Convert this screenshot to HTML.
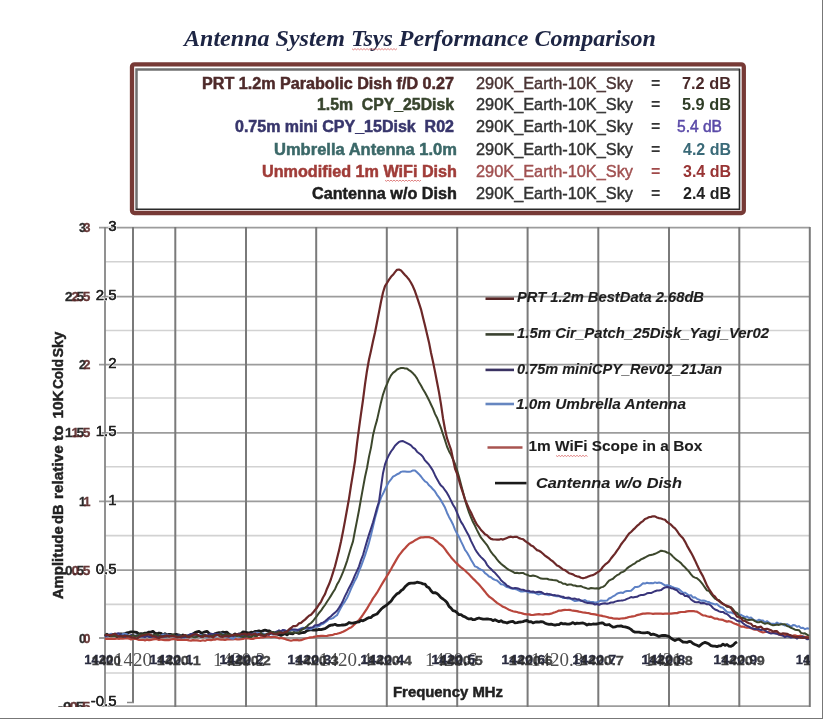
<!DOCTYPE html>
<html><head><meta charset="utf-8">
<style>
html,body{margin:0;padding:0;background:#fff;}
body{width:823px;height:719px;overflow:hidden;position:relative;}
svg{position:absolute;left:0;top:0;}
.t{font-family:"Liberation Sans",sans-serif;}
.s{font-family:"Liberation Serif",serif;}
</style></head><body>
<svg style="filter:blur(0.4px)" width="823" height="719" viewBox="0 0 823 719">
<rect x="0" y="0" width="823" height="719" fill="#fff"/>
<!-- title -->
<text class="s" x="184" y="45.8" font-size="24" font-weight="bold" font-style="italic" fill="#1d2544" textLength="472" lengthAdjust="spacingAndGlyphs">Antenna System Tsys Performance Comparison</text>
<!-- box -->
<rect x="132" y="64.3" width="611.8" height="148.7" rx="2.5" fill="none" stroke="#773a36" stroke-width="4.3"/>
<path d="M136.5 210 V69.5 H740" fill="none" stroke="#707070" stroke-width="2.5"/>
<path d="M739.5 69 V209.3 H136" fill="none" stroke="#2a2a2a" stroke-width="1.6"/>
<g class="t" font-weight="bold" font-size="16" stroke-width="0.5">
<text x="202" y="88.6" fill="#4e2a2a" stroke="#4e2a2a" textLength="252" lengthAdjust="spacingAndGlyphs">PRT 1.2m Parabolic Dish f/D 0.27</text>
<text x="317" y="110.3" fill="#38452e" stroke="#38452e" textLength="137" lengthAdjust="spacingAndGlyphs" xml:space="preserve">1.5m  CPY_25Disk</text>
<text x="235" y="132.2" fill="#38366c" stroke="#38366c" textLength="219" lengthAdjust="spacingAndGlyphs" xml:space="preserve">0.75m mini CPY_15Disk  R02</text>
<text x="274" y="154.5" fill="#3b6868" stroke="#3b6868" textLength="183" lengthAdjust="spacingAndGlyphs">Umbrella Antenna 1.0m</text>
<text x="262" y="177" fill="#a03c38" stroke="#a03c38" textLength="195" lengthAdjust="spacingAndGlyphs">Unmodified 1m WiFi Dish</text>
<text x="312" y="199.3" fill="#1e1e1e" stroke="#1e1e1e" textLength="145" lengthAdjust="spacingAndGlyphs">Cantenna w/o Dish</text>
</g>
<g class="t" font-size="16" stroke-width="0.4">
<text x="476" y="88.6" fill="#4a3434" stroke="#4a3434" textLength="157" lengthAdjust="spacingAndGlyphs">290K_Earth-10K_Sky</text>
<text x="476" y="110.3" fill="#333" stroke="#333" textLength="157" lengthAdjust="spacingAndGlyphs">290K_Earth-10K_Sky</text>
<text x="476" y="132.2" fill="#333" stroke="#333" textLength="157" lengthAdjust="spacingAndGlyphs">290K_Earth-10K_Sky</text>
<text x="476" y="154.5" fill="#333" stroke="#333" textLength="157" lengthAdjust="spacingAndGlyphs">290K_Earth-10K_Sky</text>
<text x="476" y="177" fill="#a05050" stroke="#a05050" textLength="157" lengthAdjust="spacingAndGlyphs">290K_Earth-10K_Sky</text>
<text x="476" y="199.3" fill="#333" stroke="#333" textLength="157" lengthAdjust="spacingAndGlyphs">290K_Earth-10K_Sky</text>
</g>
<g class="t" font-size="16" font-weight="bold">
<text x="651" y="88.6" fill="#333">=</text>
<text x="651" y="110.3" fill="#333">=</text>
<text x="651" y="132.2" fill="#333">=</text>
<text x="651" y="154.5" fill="#333">=</text>
<text x="651" y="177" fill="#a04848">=</text>
<text x="651" y="199.3" fill="#333">=</text>
<text x="682" y="88.6" fill="#4a2a2a" textLength="49" lengthAdjust="spacingAndGlyphs">7.2 dB</text>
<text x="682" y="110.3" fill="#2f3d26" textLength="49" lengthAdjust="spacingAndGlyphs">5.9 dB</text>
<text x="677" y="132.2" fill="#5a4aa8" stroke="#5a4aa8" stroke-width="0.5" font-weight="normal" textLength="45" lengthAdjust="spacingAndGlyphs">5.4 dB</text>
<text x="683" y="154.5" fill="#3a6a78" textLength="48" lengthAdjust="spacingAndGlyphs">4.2 dB</text>
<text x="683" y="177" fill="#983434" textLength="48" lengthAdjust="spacingAndGlyphs">3.4 dB</text>
<text x="683" y="199.3" fill="#222" textLength="48" lengthAdjust="spacingAndGlyphs">2.4 dB</text>
</g>
<defs><clipPath id="cx"><rect x="0" y="600" width="810" height="119"/></clipPath><clipPath id="cy"><rect x="0" y="0" width="823" height="707"/></clipPath></defs>
<line x1="105" y1="261.8" x2="810" y2="261.8" stroke="#d2d2d2" stroke-width="1.6"/>
<line x1="105" y1="330.5" x2="810" y2="330.5" stroke="#d2d2d2" stroke-width="1.6"/>
<line x1="105" y1="398" x2="810" y2="398" stroke="#d2d2d2" stroke-width="1.6"/>
<line x1="105" y1="466.8" x2="810" y2="466.8" stroke="#d2d2d2" stroke-width="1.6"/>
<line x1="105" y1="535.6" x2="810" y2="535.6" stroke="#d2d2d2" stroke-width="1.6"/>
<line x1="105" y1="604.4" x2="810" y2="604.4" stroke="#d2d2d2" stroke-width="1.6"/>
<line x1="105" y1="673" x2="810" y2="673" stroke="#d2d2d2" stroke-width="1.6"/>
<line x1="99" y1="227.7" x2="810" y2="227.7" stroke="#9c9c9c" stroke-width="1.8"/>
<line x1="99" y1="296.6" x2="810" y2="296.6" stroke="#9c9c9c" stroke-width="1.8"/>
<line x1="99" y1="364.7" x2="810" y2="364.7" stroke="#9c9c9c" stroke-width="1.8"/>
<line x1="99" y1="432.8" x2="810" y2="432.8" stroke="#9c9c9c" stroke-width="1.8"/>
<line x1="99" y1="501.3" x2="810" y2="501.3" stroke="#9c9c9c" stroke-width="1.8"/>
<line x1="99" y1="570.2" x2="810" y2="570.2" stroke="#9c9c9c" stroke-width="1.8"/>
<line x1="99" y1="638" x2="810" y2="638" stroke="#9c9c9c" stroke-width="1.8"/>
<line x1="99" y1="706.1" x2="810" y2="706.1" stroke="#9c9c9c" stroke-width="1.8"/>
<line x1="133" y1="227" x2="133" y2="702.5" stroke="#7a7a7a" stroke-width="2"/>
<line x1="175.3" y1="227" x2="175.3" y2="707" stroke="#7a7a7a" stroke-width="2"/>
<line x1="246" y1="227" x2="246" y2="707" stroke="#7a7a7a" stroke-width="2"/>
<line x1="316.2" y1="227" x2="316.2" y2="707" stroke="#7a7a7a" stroke-width="2"/>
<line x1="386.8" y1="227" x2="386.8" y2="707" stroke="#7a7a7a" stroke-width="2"/>
<line x1="457.2" y1="227" x2="457.2" y2="707" stroke="#7a7a7a" stroke-width="2"/>
<line x1="527.6" y1="227" x2="527.6" y2="707" stroke="#7a7a7a" stroke-width="2"/>
<line x1="598.3" y1="227" x2="598.3" y2="707" stroke="#7a7a7a" stroke-width="2"/>
<line x1="669" y1="227" x2="669" y2="707" stroke="#7a7a7a" stroke-width="2"/>
<line x1="739.3" y1="227" x2="739.3" y2="707" stroke="#7a7a7a" stroke-width="2"/>
<line x1="809.8" y1="227" x2="809.8" y2="707" stroke="#7a7a7a" stroke-width="2"/>
<line x1="127" y1="702.5" x2="134" y2="702.5" stroke="#888" stroke-width="1.5"/>
<line x1="105" y1="227" x2="105" y2="706" stroke="#858585" stroke-width="1.8"/>
<text class="t" x="116.5" y="231.3" font-size="15" fill="#222" stroke="#fff" stroke-width="1.5" paint-order="stroke" text-anchor="end">3</text>
<text class="t" x="116.5" y="231.3" font-size="15" fill="#222" stroke="#222" stroke-width="0.35" text-anchor="end">3</text>
<text class="t" x="85.9" y="232.3" font-size="12.5" font-weight="bold" fill="#2a2a2a" stroke="#2a2a2a" stroke-width="0.3" clip-path="url(#cy)" text-anchor="end">3</text>
<text class="t" x="90.4" y="232.3" font-size="12.5" font-weight="bold" fill="#5a2828" stroke="#5a2828" stroke-width="0.3" clip-path="url(#cy)" fill-opacity="0.9" text-anchor="end">3</text>
<text class="t" x="116.5" y="300.2" font-size="15" fill="#222" stroke="#fff" stroke-width="1.5" paint-order="stroke" text-anchor="end">2.5</text>
<text class="t" x="116.5" y="300.2" font-size="15" fill="#222" stroke="#222" stroke-width="0.35" text-anchor="end">2.5</text>
<text class="t" x="65.1" y="301.2" font-size="12.5" font-weight="bold" fill="#2a2a2a" stroke="#2a2a2a" stroke-width="0.3" clip-path="url(#cy)" textLength="19" lengthAdjust="spacingAndGlyphs">2.5</text>
<text class="t" x="71.4" y="301.2" font-size="12.5" font-weight="bold" fill="#5a2828" stroke="#5a2828" stroke-width="0.3" clip-path="url(#cy)" fill-opacity="0.9" textLength="19" lengthAdjust="spacingAndGlyphs">2.5</text>
<text class="t" x="116.5" y="368.3" font-size="15" fill="#222" stroke="#fff" stroke-width="1.5" paint-order="stroke" text-anchor="end">2</text>
<text class="t" x="116.5" y="368.3" font-size="15" fill="#222" stroke="#222" stroke-width="0.35" text-anchor="end">2</text>
<text class="t" x="85.9" y="369.3" font-size="12.5" font-weight="bold" fill="#2a2a2a" stroke="#2a2a2a" stroke-width="0.3" clip-path="url(#cy)" text-anchor="end">2</text>
<text class="t" x="90.4" y="369.3" font-size="12.5" font-weight="bold" fill="#5a2828" stroke="#5a2828" stroke-width="0.3" clip-path="url(#cy)" fill-opacity="0.9" text-anchor="end">2</text>
<text class="t" x="116.5" y="436.4" font-size="15" fill="#222" stroke="#fff" stroke-width="1.5" paint-order="stroke" text-anchor="end">1.5</text>
<text class="t" x="116.5" y="436.4" font-size="15" fill="#222" stroke="#222" stroke-width="0.35" text-anchor="end">1.5</text>
<text class="t" x="65.1" y="437.4" font-size="12.5" font-weight="bold" fill="#2a2a2a" stroke="#2a2a2a" stroke-width="0.3" clip-path="url(#cy)" textLength="19" lengthAdjust="spacingAndGlyphs">1.5</text>
<text class="t" x="71.4" y="437.4" font-size="12.5" font-weight="bold" fill="#5a2828" stroke="#5a2828" stroke-width="0.3" clip-path="url(#cy)" fill-opacity="0.9" textLength="19" lengthAdjust="spacingAndGlyphs">1.5</text>
<text class="t" x="116.5" y="504.9" font-size="15" fill="#222" stroke="#fff" stroke-width="1.5" paint-order="stroke" text-anchor="end">1</text>
<text class="t" x="116.5" y="504.9" font-size="15" fill="#222" stroke="#222" stroke-width="0.35" text-anchor="end">1</text>
<text class="t" x="85.9" y="505.9" font-size="12.5" font-weight="bold" fill="#2a2a2a" stroke="#2a2a2a" stroke-width="0.3" clip-path="url(#cy)" text-anchor="end">1</text>
<text class="t" x="90.4" y="505.9" font-size="12.5" font-weight="bold" fill="#5a2828" stroke="#5a2828" stroke-width="0.3" clip-path="url(#cy)" fill-opacity="0.9" text-anchor="end">1</text>
<text class="t" x="116.5" y="573.8" font-size="15" fill="#222" stroke="#fff" stroke-width="1.5" paint-order="stroke" text-anchor="end">0.5</text>
<text class="t" x="116.5" y="573.8" font-size="15" fill="#222" stroke="#222" stroke-width="0.35" text-anchor="end">0.5</text>
<text class="t" x="65.1" y="574.8" font-size="12.5" font-weight="bold" fill="#2a2a2a" stroke="#2a2a2a" stroke-width="0.3" clip-path="url(#cy)" textLength="19" lengthAdjust="spacingAndGlyphs">0.5</text>
<text class="t" x="71.4" y="574.8" font-size="12.5" font-weight="bold" fill="#5a2828" stroke="#5a2828" stroke-width="0.3" clip-path="url(#cy)" fill-opacity="0.9" textLength="19" lengthAdjust="spacingAndGlyphs">0.5</text>
<text class="t" x="85.9" y="642.6" font-size="12.5" font-weight="bold" fill="#2a2a2a" stroke="#2a2a2a" stroke-width="0.3" clip-path="url(#cy)" text-anchor="end">0</text>
<text class="t" x="90.4" y="642.6" font-size="12.5" font-weight="bold" fill="#5a2828" stroke="#5a2828" stroke-width="0.3" clip-path="url(#cy)" fill-opacity="0.9" text-anchor="end">0</text>
<text class="t" x="116.5" y="705.6" font-size="15" fill="#222" stroke="#fff" stroke-width="1.5" paint-order="stroke" text-anchor="end">-0.5</text>
<text class="t" x="116.5" y="705.6" font-size="15" fill="#222" stroke="#222" stroke-width="0.35" text-anchor="end">-0.5</text>
<text class="t" x="58.1" y="710.7" font-size="12.5" font-weight="bold" fill="#2a2a2a" stroke="#2a2a2a" stroke-width="0.3" clip-path="url(#cy)" textLength="26" lengthAdjust="spacingAndGlyphs">-0.5</text>
<text class="t" x="64.4" y="710.7" font-size="12.5" font-weight="bold" fill="#5a2828" stroke="#5a2828" stroke-width="0.3" clip-path="url(#cy)" fill-opacity="0.9" textLength="26" lengthAdjust="spacingAndGlyphs">-0.5</text>
<text class="s" x="133" y="666" font-size="19" fill="#505050" text-anchor="middle">1420</text>
<text class="s" x="239" y="666" font-size="19" fill="#505050" text-anchor="middle">1420.2</text>
<text class="s" x="345" y="666" font-size="19" fill="#505050" text-anchor="middle">1420.4</text>
<text class="s" x="451" y="666" font-size="19" fill="#505050" text-anchor="middle">1420.6</text>
<text class="s" x="557" y="666" font-size="19" fill="#505050" text-anchor="middle">1420.8</text>
<text class="s" x="663" y="666" font-size="19" fill="#505050" text-anchor="middle">1421</text>
<text class="t" x="84.2" y="664" font-size="13.5" font-weight="bold" fill="#2a2c40" stroke="#2a2c40" stroke-width="0.3" clip-path="url(#cx)" textLength="29" lengthAdjust="spacingAndGlyphs">1420</text>
<text class="t" x="91.8" y="664.5" font-size="13.5" font-weight="bold" fill="#2a2a2a" stroke="#2a2a2a" stroke-width="0.3" fill-opacity="0.85" clip-path="url(#cx)" textLength="29" lengthAdjust="spacingAndGlyphs">1420</text>
<text class="t" x="149.2" y="664" font-size="13.5" font-weight="bold" fill="#2a2c40" stroke="#2a2c40" stroke-width="0.3" clip-path="url(#cx)" textLength="44" lengthAdjust="spacingAndGlyphs">1420.1</text>
<text class="t" x="156.8" y="664.5" font-size="13.5" font-weight="bold" fill="#2a2a2a" stroke="#2a2a2a" stroke-width="0.3" fill-opacity="0.85" clip-path="url(#cx)" textLength="44" lengthAdjust="spacingAndGlyphs">1420.1</text>
<text class="t" x="219.2" y="664" font-size="13.5" font-weight="bold" fill="#2a2c40" stroke="#2a2c40" stroke-width="0.3" clip-path="url(#cx)" textLength="44" lengthAdjust="spacingAndGlyphs">1420.2</text>
<text class="t" x="226.8" y="664.5" font-size="13.5" font-weight="bold" fill="#2a2a2a" stroke="#2a2a2a" stroke-width="0.3" fill-opacity="0.85" clip-path="url(#cx)" textLength="44" lengthAdjust="spacingAndGlyphs">1420.2</text>
<text class="t" x="287.2" y="664" font-size="13.5" font-weight="bold" fill="#2a2c40" stroke="#2a2c40" stroke-width="0.3" clip-path="url(#cx)" textLength="44" lengthAdjust="spacingAndGlyphs">1420.3</text>
<text class="t" x="294.8" y="664.5" font-size="13.5" font-weight="bold" fill="#2a2a2a" stroke="#2a2a2a" stroke-width="0.3" fill-opacity="0.85" clip-path="url(#cx)" textLength="44" lengthAdjust="spacingAndGlyphs">1420.3</text>
<text class="t" x="360.2" y="664" font-size="13.5" font-weight="bold" fill="#2a2c40" stroke="#2a2c40" stroke-width="0.3" clip-path="url(#cx)" textLength="44" lengthAdjust="spacingAndGlyphs">1420.4</text>
<text class="t" x="367.8" y="664.5" font-size="13.5" font-weight="bold" fill="#2a2a2a" stroke="#2a2a2a" stroke-width="0.3" fill-opacity="0.85" clip-path="url(#cx)" textLength="44" lengthAdjust="spacingAndGlyphs">1420.4</text>
<text class="t" x="431.2" y="664" font-size="13.5" font-weight="bold" fill="#2a2c40" stroke="#2a2c40" stroke-width="0.3" clip-path="url(#cx)" textLength="44" lengthAdjust="spacingAndGlyphs">1420.5</text>
<text class="t" x="438.8" y="664.5" font-size="13.5" font-weight="bold" fill="#2a2a2a" stroke="#2a2a2a" stroke-width="0.3" fill-opacity="0.85" clip-path="url(#cx)" textLength="44" lengthAdjust="spacingAndGlyphs">1420.5</text>
<text class="t" x="501.2" y="664" font-size="13.5" font-weight="bold" fill="#2a2c40" stroke="#2a2c40" stroke-width="0.3" clip-path="url(#cx)" textLength="44" lengthAdjust="spacingAndGlyphs">1420.6</text>
<text class="t" x="508.8" y="664.5" font-size="13.5" font-weight="bold" fill="#2a2a2a" stroke="#2a2a2a" stroke-width="0.3" fill-opacity="0.85" clip-path="url(#cx)" textLength="44" lengthAdjust="spacingAndGlyphs">1420.6</text>
<text class="t" x="572.2" y="664" font-size="13.5" font-weight="bold" fill="#2a2c40" stroke="#2a2c40" stroke-width="0.3" clip-path="url(#cx)" textLength="44" lengthAdjust="spacingAndGlyphs">1420.7</text>
<text class="t" x="579.8" y="664.5" font-size="13.5" font-weight="bold" fill="#2a2a2a" stroke="#2a2a2a" stroke-width="0.3" fill-opacity="0.85" clip-path="url(#cx)" textLength="44" lengthAdjust="spacingAndGlyphs">1420.7</text>
<text class="t" x="641.2" y="664" font-size="13.5" font-weight="bold" fill="#2a2c40" stroke="#2a2c40" stroke-width="0.3" clip-path="url(#cx)" textLength="44" lengthAdjust="spacingAndGlyphs">1420.8</text>
<text class="t" x="648.8" y="664.5" font-size="13.5" font-weight="bold" fill="#2a2a2a" stroke="#2a2a2a" stroke-width="0.3" fill-opacity="0.85" clip-path="url(#cx)" textLength="44" lengthAdjust="spacingAndGlyphs">1420.8</text>
<text class="t" x="713.2" y="664" font-size="13.5" font-weight="bold" fill="#2a2c40" stroke="#2a2c40" stroke-width="0.3" clip-path="url(#cx)" textLength="44" lengthAdjust="spacingAndGlyphs">1420.9</text>
<text class="t" x="720.8" y="664.5" font-size="13.5" font-weight="bold" fill="#2a2a2a" stroke="#2a2a2a" stroke-width="0.3" fill-opacity="0.85" clip-path="url(#cx)" textLength="44" lengthAdjust="spacingAndGlyphs">1420.9</text>
<text class="t" x="795.8" y="664" font-size="13.5" font-weight="bold" fill="#2a2c40" stroke="#2a2c40" stroke-width="0.3" clip-path="url(#cx)" textLength="29" lengthAdjust="spacingAndGlyphs">1421</text>
<text class="t" x="803.2" y="664.5" font-size="13.5" font-weight="bold" fill="#2a2a2a" stroke="#2a2a2a" stroke-width="0.3" fill-opacity="0.85" clip-path="url(#cx)" textLength="29" lengthAdjust="spacingAndGlyphs">1421</text>
<polyline fill="none" stroke="#b8463c" stroke-width="2.2" stroke-linejoin="round" points="105.0,639.0 107.0,638.6 109.0,639.0 111.0,638.6 113.0,638.9 115.0,638.8 117.0,638.4 119.0,638.8 121.0,638.4 123.0,638.7 125.0,638.4 127.0,638.2 129.0,638.6 131.0,639.4 133.0,638.9 135.0,638.8 137.0,639.3 139.0,640.0 141.0,640.0 143.0,639.8 145.0,640.4 147.0,639.6 149.0,640.2 151.0,639.8 153.0,639.4 155.0,639.1 157.0,639.2 159.0,639.9 161.0,639.5 163.0,639.8 165.0,640.1 167.0,639.9 169.0,640.1 171.0,639.5 173.0,639.2 175.0,639.2 177.0,639.8 179.0,639.8 181.0,639.7 183.0,640.0 185.0,640.0 187.0,639.9 189.0,640.4 191.0,640.6 193.0,640.1 195.0,640.3 197.0,640.3 199.0,640.7 201.0,640.8 203.0,640.3 205.0,640.8 207.0,640.0 209.0,639.9 211.0,640.2 213.0,639.6 215.0,639.6 217.0,639.0 219.0,639.4 221.0,639.7 223.0,639.6 225.0,640.0 227.0,639.4 229.0,639.5 231.0,639.4 233.0,639.3 235.0,639.0 237.0,639.3 239.0,639.5 241.0,639.1 243.0,639.0 245.0,638.1 247.0,638.4 249.0,638.4 251.0,638.9 253.0,638.9 255.0,638.2 257.0,637.9 259.0,638.0 261.0,637.3 263.0,637.3 265.0,637.0 267.0,636.7 269.0,636.4 271.0,637.2 273.0,636.9 275.0,637.0 277.0,637.3 279.0,638.3 281.0,638.0 283.0,638.4 285.0,638.9 287.0,639.7 289.0,640.2 291.0,640.7 293.0,640.2 295.0,640.1 297.0,639.9 299.0,640.3 301.0,640.2 303.0,639.4 305.0,638.8 307.0,638.2 309.0,637.7 311.0,637.4 313.0,637.1 315.0,636.7 317.0,636.2 319.0,636.1 321.0,635.9 323.0,635.8 325.0,636.0 327.0,635.8 329.0,635.4 331.0,635.1 333.0,634.8 335.0,634.0 337.0,633.8 339.0,633.2 341.0,632.6 343.0,631.8 345.0,630.7 347.0,629.6 349.0,628.3 351.0,627.5 353.0,625.8 355.0,623.9 357.0,622.0 359.0,619.9 361.0,617.5 363.0,614.7 365.0,611.7 367.0,608.6 369.0,605.2 371.0,602.0 373.0,598.4 375.0,595.7 377.0,592.7 379.0,589.2 381.0,585.8 383.0,582.4 385.0,579.2 387.0,575.8 389.0,572.6 391.0,569.3 393.0,565.6 395.0,562.1 397.0,558.6 399.0,555.4 401.0,552.8 403.0,550.3 405.0,548.3 407.0,546.0 409.0,543.9 411.0,542.8 413.0,541.7 415.0,540.3 417.0,539.3 419.0,538.1 421.0,537.4 423.0,537.3 425.0,537.1 427.0,537.1 429.0,537.1 431.0,537.7 433.0,538.4 435.0,540.0 437.0,541.5 439.0,543.3 441.0,544.9 443.0,546.6 445.0,549.2 447.0,552.0 449.0,554.6 451.0,557.2 453.0,559.6 455.0,561.7 457.0,563.6 459.0,565.6 461.0,567.4 463.0,568.9 465.0,570.5 467.0,572.5 469.0,574.3 471.0,576.4 473.0,578.6 475.0,580.4 477.0,582.5 479.0,584.5 481.0,586.9 483.0,589.3 485.0,591.7 487.0,594.3 489.0,596.5 491.0,597.8 493.0,599.4 495.0,601.2 497.0,602.8 499.0,604.1 501.0,605.4 503.0,606.8 505.0,607.5 507.0,608.6 509.0,609.7 511.0,610.5 513.0,611.2 515.0,611.7 517.0,612.0 519.0,612.7 521.0,613.0 523.0,613.6 525.0,614.2 527.0,614.3 529.0,614.4 531.0,614.9 533.0,615.0 535.0,614.7 537.0,614.4 539.0,614.2 541.0,614.5 543.0,614.6 545.0,614.1 547.0,614.1 549.0,614.1 551.0,613.7 553.0,612.9 555.0,612.3 557.0,611.5 559.0,610.6 561.0,610.6 563.0,610.2 565.0,609.9 567.0,610.0 569.0,609.8 571.0,610.2 573.0,610.7 575.0,610.8 577.0,611.1 579.0,611.6 581.0,612.0 583.0,612.5 585.0,612.7 587.0,613.0 589.0,613.2 591.0,613.9 593.0,614.1 595.0,614.4 597.0,614.8 599.0,615.4 601.0,615.6 603.0,616.1 605.0,616.5 607.0,617.0 609.0,617.6 611.0,617.8 613.0,618.4 615.0,618.6 617.0,618.5 619.0,618.9 621.0,618.5 623.0,618.3 625.0,618.1 627.0,617.6 629.0,617.0 631.0,616.7 633.0,616.3 635.0,616.0 637.0,615.1 639.0,614.7 641.0,614.1 643.0,613.6 645.0,613.6 647.0,613.4 649.0,613.4 651.0,613.5 653.0,613.8 655.0,613.6 657.0,613.7 659.0,613.7 661.0,613.7 663.0,613.8 665.0,613.7 667.0,613.6 669.0,613.5 671.0,613.6 673.0,613.4 675.0,613.2 677.0,613.1 679.0,612.4 681.0,612.0 683.0,612.0 685.0,611.9 687.0,611.4 689.0,611.1 691.0,611.2 693.0,611.0 695.0,611.4 697.0,611.7 699.0,612.9 701.0,614.2 703.0,615.4 705.0,615.5 707.0,616.3 709.0,616.8 711.0,616.7 713.0,617.7 715.0,618.7 717.0,618.5 719.0,619.5 721.0,619.6 723.0,619.9 725.0,620.9 727.0,621.6 729.0,621.2 731.0,621.8 733.0,622.9 735.0,623.7 737.0,624.4 739.0,625.3 741.0,626.6 743.0,626.5 745.0,627.2 747.0,627.7 749.0,627.7 751.0,628.2 753.0,629.1 755.0,629.7 757.0,629.6 759.0,630.9 761.0,631.7 763.0,632.5 765.0,632.0 767.0,632.0 769.0,631.9 771.0,632.9 773.0,632.9 775.0,632.9 777.0,633.4 779.0,634.4 781.0,635.1 783.0,634.9 785.0,634.7 787.0,635.6 789.0,635.8 791.0,636.2 793.0,635.7 795.0,635.4 797.0,636.0 799.0,636.1 801.0,635.7 803.0,636.6 805.0,636.8 807.0,637.2 809.0,636.5"/>
<polyline fill="none" stroke="#1a1a1a" stroke-width="2.8" stroke-linejoin="round" points="105.0,636.1 107.0,634.3 109.0,635.7 111.0,635.3 113.0,634.7 115.0,634.9 117.0,636.3 119.0,635.0 121.0,633.8 123.0,634.2 125.0,633.6 127.0,632.8 129.0,632.4 131.0,631.8 133.0,631.9 135.0,632.2 137.0,632.5 139.0,634.1 141.0,633.6 143.0,633.9 145.0,633.1 147.0,633.1 149.0,632.1 151.0,632.1 153.0,631.4 155.0,633.2 157.0,633.8 159.0,633.0 161.0,633.4 163.0,635.1 165.0,633.6 167.0,634.9 169.0,634.4 171.0,634.4 173.0,635.4 175.0,634.6 177.0,634.5 179.0,635.0 181.0,636.2 183.0,635.0 185.0,635.7 187.0,635.8 189.0,635.6 191.0,634.8 193.0,634.0 195.0,632.6 197.0,631.9 199.0,631.3 201.0,633.0 203.0,632.5 205.0,631.9 207.0,631.3 209.0,633.3 211.0,634.7 213.0,634.9 215.0,633.8 217.0,633.0 219.0,632.6 221.0,632.9 223.0,632.1 225.0,632.5 227.0,632.2 229.0,634.2 231.0,635.5 233.0,635.1 235.0,633.8 237.0,635.2 239.0,634.1 241.0,633.5 243.0,631.9 245.0,632.2 247.0,632.6 249.0,633.0 251.0,632.2 253.0,632.7 255.0,631.4 257.0,631.4 259.0,630.9 261.0,631.5 263.0,630.7 265.0,630.2 267.0,630.7 269.0,630.8 271.0,632.0 273.0,632.6 275.0,633.7 277.0,634.1 279.0,634.6 281.0,635.4 283.0,634.4 285.0,633.5 287.0,634.9 289.0,633.1 291.0,633.7 293.0,633.8 295.0,631.7 297.0,632.8 299.0,633.5 301.0,632.9 303.0,632.5 305.0,632.3 307.0,630.6 309.0,630.1 311.0,629.7 313.0,630.0 315.0,630.0 317.0,630.0 319.0,629.4 321.0,629.6 323.0,629.1 325.0,628.7 327.0,627.3 329.0,625.9 331.0,625.1 333.0,625.0 335.0,624.3 337.0,625.3 339.0,625.3 341.0,625.2 343.0,625.0 345.0,624.8 347.0,624.2 349.0,622.5 351.0,623.1 353.0,623.2 355.0,622.6 357.0,622.1 359.0,621.9 361.0,620.4 363.0,620.8 365.0,619.8 367.0,618.5 369.0,617.6 371.0,617.5 373.0,615.6 375.0,614.7 377.0,614.0 379.0,611.7 381.0,609.3 383.0,607.5 385.0,606.1 387.0,604.8 389.0,602.9 391.0,601.2 393.0,598.2 395.0,595.9 397.0,593.8 399.0,592.9 401.0,590.7 403.0,589.3 405.0,586.8 407.0,584.9 409.0,583.5 411.0,583.2 413.0,583.1 415.0,583.0 417.0,582.2 419.0,582.6 421.0,583.0 423.0,583.9 425.0,584.2 427.0,586.8 429.0,587.8 431.0,590.7 433.0,592.9 435.0,592.6 437.0,593.5 439.0,595.3 441.0,597.7 443.0,599.0 445.0,600.5 447.0,602.5 449.0,606.4 451.0,608.1 453.0,610.6 455.0,611.2 457.0,612.6 459.0,614.7 461.0,614.6 463.0,616.2 465.0,616.8 467.0,618.2 469.0,619.0 471.0,618.6 473.0,619.7 475.0,619.6 477.0,618.6 479.0,618.0 481.0,618.7 483.0,619.1 485.0,619.1 487.0,618.8 489.0,619.1 491.0,619.3 493.0,620.6 495.0,619.7 497.0,620.7 499.0,621.7 501.0,620.7 503.0,622.0 505.0,622.3 507.0,623.0 509.0,622.1 511.0,621.7 513.0,621.5 515.0,622.8 517.0,622.7 519.0,622.2 521.0,622.0 523.0,621.6 525.0,620.8 527.0,620.5 529.0,621.9 531.0,621.6 533.0,622.9 535.0,622.2 537.0,621.8 539.0,622.2 541.0,621.7 543.0,621.8 545.0,623.2 547.0,623.9 549.0,624.3 551.0,624.1 553.0,624.7 555.0,625.1 557.0,624.6 559.0,624.6 561.0,623.2 563.0,623.8 565.0,623.6 567.0,624.1 569.0,624.2 571.0,623.6 573.0,622.6 575.0,623.9 577.0,623.1 579.0,623.3 581.0,623.1 583.0,623.0 585.0,623.8 587.0,625.0 589.0,624.1 591.0,624.5 593.0,624.0 595.0,624.2 597.0,624.0 599.0,623.4 601.0,623.0 603.0,623.0 605.0,624.6 607.0,624.9 609.0,624.5 611.0,625.9 613.0,627.2 615.0,626.9 617.0,626.2 619.0,626.1 621.0,625.9 623.0,626.6 625.0,626.8 627.0,627.4 629.0,628.1 631.0,629.4 633.0,631.2 635.0,632.1 637.0,632.1 639.0,632.2 641.0,632.7 643.0,632.8 645.0,632.9 647.0,632.5 649.0,632.8 651.0,634.7 653.0,634.1 655.0,634.7 657.0,635.4 659.0,636.4 661.0,635.7 663.0,635.5 665.0,635.4 667.0,635.9 669.0,636.5 671.0,638.3 673.0,639.4 675.0,640.5 677.0,639.5 679.0,639.1 681.0,640.6 683.0,642.0 685.0,642.1 687.0,642.4 689.0,641.5 691.0,641.7 693.0,643.5 695.0,644.5 697.0,645.3 699.0,646.3 701.0,644.7 703.0,643.2 705.0,642.4 707.0,643.1 709.0,644.1 711.0,645.7 713.0,646.1 715.0,646.1 717.0,646.6 719.0,645.9 721.0,645.8 723.0,644.1 725.0,645.4 727.0,644.5 729.0,646.1 731.0,646.3 733.0,645.2 735.0,643.2 737.0,641.8"/>
<polyline fill="none" stroke="#5d80c4" stroke-width="2.0" stroke-linejoin="round" points="105.0,635.9 107.0,636.4 109.0,634.9 111.0,633.8 113.0,634.5 115.0,635.1 117.0,634.9 119.0,634.3 121.0,635.0 123.0,633.8 125.0,633.8 127.0,634.3 129.0,636.1 131.0,636.4 133.0,637.3 135.0,636.6 137.0,635.5 139.0,634.8 141.0,636.5 143.0,636.8 145.0,635.9 147.0,634.4 149.0,634.9 151.0,635.7 153.0,635.5 155.0,634.9 157.0,635.7 159.0,637.0 161.0,635.8 163.0,634.4 165.0,634.4 167.0,634.7 169.0,635.7 171.0,634.9 173.0,636.1 175.0,636.8 177.0,636.5 179.0,635.4 181.0,637.0 183.0,636.1 185.0,637.0 187.0,635.9 189.0,635.1 191.0,636.2 193.0,635.5 195.0,637.0 197.0,636.7 199.0,635.5 201.0,634.9 203.0,635.0 205.0,635.9 207.0,637.3 209.0,635.8 211.0,635.5 213.0,634.8 215.0,636.6 217.0,635.3 219.0,634.2 221.0,633.5 223.0,634.0 225.0,635.9 227.0,637.0 229.0,637.3 231.0,638.3 233.0,638.7 235.0,637.1 237.0,635.7 239.0,637.0 241.0,637.3 243.0,635.3 245.0,635.9 247.0,635.4 249.0,635.0 251.0,634.6 253.0,633.8 255.0,632.7 257.0,632.7 259.0,632.9 261.0,634.7 263.0,633.4 265.0,634.9 267.0,633.6 269.0,633.1 271.0,634.0 273.0,634.6 275.0,633.7 277.0,631.8 279.0,631.8 281.0,631.4 283.0,632.7 285.0,631.3 287.0,630.7 289.0,631.9 291.0,630.0 293.0,629.8 295.0,630.7 297.0,631.2 299.0,629.2 301.0,628.3 303.0,627.7 305.0,628.8 307.0,628.3 309.0,628.7 311.0,629.2 313.0,627.8 315.0,626.6 317.0,626.8 319.0,626.1 321.0,624.6 323.0,623.9 325.0,622.4 327.0,620.9 329.0,619.1 331.0,618.7 333.0,618.1 335.0,616.5 337.0,615.2 339.0,611.3 341.0,607.6 343.0,604.1 345.0,601.3 347.0,598.0 349.0,593.6 351.0,588.8 353.0,584.6 355.0,580.4 357.0,576.7 359.0,571.1 361.0,566.4 363.0,561.0 365.0,555.4 367.0,549.3 369.0,542.6 371.0,534.9 373.0,526.5 375.0,518.1 377.0,511.0 379.0,503.3 381.0,497.6 383.0,493.8 385.0,489.5 387.0,485.4 389.0,481.8 391.0,479.4 393.0,476.7 395.0,475.6 397.0,474.3 399.0,473.5 401.0,471.9 403.0,471.4 405.0,471.4 407.0,471.7 409.0,471.8 411.0,471.4 413.0,470.4 415.0,470.4 417.0,472.3 419.0,474.2 421.0,476.5 423.0,479.1 425.0,481.3 427.0,482.5 429.0,485.3 431.0,487.0 433.0,489.3 435.0,491.4 437.0,494.8 439.0,497.4 441.0,500.4 443.0,504.0 445.0,507.6 447.0,512.7 449.0,516.9 451.0,520.5 453.0,524.5 455.0,529.6 457.0,533.5 459.0,536.9 461.0,541.4 463.0,545.4 465.0,549.9 467.0,552.5 469.0,555.9 471.0,559.7 473.0,563.0 475.0,566.4 477.0,567.1 479.0,568.6 481.0,569.7 483.0,570.7 485.0,573.2 487.0,574.5 489.0,576.5 491.0,577.2 493.0,579.0 495.0,579.9 497.0,580.5 499.0,582.2 501.0,584.2 503.0,584.4 505.0,585.8 507.0,587.1 509.0,587.6 511.0,588.4 513.0,588.7 515.0,589.1 517.0,589.6 519.0,590.6 521.0,591.5 523.0,591.4 525.0,591.1 527.0,591.5 529.0,592.5 531.0,592.5 533.0,592.7 535.0,592.8 537.0,594.0 539.0,594.4 541.0,593.8 543.0,593.6 545.0,594.1 547.0,594.7 549.0,595.4 551.0,594.9 553.0,594.9 555.0,595.9 557.0,596.2 559.0,596.3 561.0,596.5 563.0,598.0 565.0,597.9 567.0,598.4 569.0,598.6 571.0,598.9 573.0,600.0 575.0,601.1 577.0,600.7 579.0,600.3 581.0,601.0 583.0,600.6 585.0,600.0 587.0,601.3 589.0,601.4 591.0,602.1 593.0,601.9 595.0,602.6 597.0,602.2 599.0,601.4 601.0,600.5 603.0,600.7 605.0,600.7 607.0,600.6 609.0,598.5 611.0,597.7 613.0,596.3 615.0,595.3 617.0,593.7 619.0,592.9 621.0,592.6 623.0,592.9 625.0,591.5 627.0,591.0 629.0,591.0 631.0,590.8 633.0,588.9 635.0,587.1 637.0,586.9 639.0,586.5 641.0,585.1 643.0,583.3 645.0,583.6 647.0,582.8 649.0,583.2 651.0,583.0 653.0,583.3 655.0,582.4 657.0,583.0 659.0,582.6 661.0,582.9 663.0,584.2 665.0,585.4 667.0,585.3 669.0,585.6 671.0,586.3 673.0,587.3 675.0,588.1 677.0,588.5 679.0,589.3 681.0,591.0 683.0,592.7 685.0,592.7 687.0,594.0 689.0,595.6 691.0,595.2 693.0,597.6 695.0,597.3 697.0,598.8 699.0,599.7 701.0,600.7 703.0,600.4 705.0,600.8 707.0,601.7 709.0,602.0 711.0,603.3 713.0,603.8 715.0,604.4 717.0,604.1 719.0,606.0 721.0,607.3 723.0,607.8 725.0,610.1 727.0,611.9 729.0,612.4 731.0,612.3 733.0,613.4 735.0,613.3 737.0,613.5 739.0,614.7 741.0,614.8 743.0,616.0 745.0,617.1 747.0,616.5 749.0,618.0 751.0,617.5 753.0,619.3 755.0,620.6 757.0,620.9 759.0,619.7 761.0,620.4 763.0,620.6 765.0,622.4 767.0,621.2 769.0,622.5 771.0,623.8 773.0,623.8 775.0,624.1 777.0,622.5 779.0,623.9 781.0,623.5 783.0,624.7 785.0,625.6 787.0,624.1 789.0,625.2 791.0,626.6 793.0,625.1 795.0,625.2 797.0,626.7 799.0,626.1 801.0,628.1 803.0,627.7 805.0,629.2 807.0,628.3 809.0,628.8"/>
<polyline fill="none" stroke="#38347a" stroke-width="2.0" stroke-linejoin="round" points="105.0,636.7 107.0,635.4 109.0,634.8 111.0,635.1 113.0,634.7 115.0,633.7 117.0,633.5 119.0,633.2 121.0,635.3 123.0,635.9 125.0,636.9 127.0,635.5 129.0,636.3 131.0,635.0 133.0,635.3 135.0,635.8 137.0,635.4 139.0,636.5 141.0,636.4 143.0,636.4 145.0,637.2 147.0,635.6 149.0,637.0 151.0,637.0 153.0,636.3 155.0,636.9 157.0,635.9 159.0,637.3 161.0,637.0 163.0,636.2 165.0,636.8 167.0,636.4 169.0,635.3 171.0,636.2 173.0,634.9 175.0,636.1 177.0,635.4 179.0,636.0 181.0,637.4 183.0,637.1 185.0,637.2 187.0,636.3 189.0,634.8 191.0,633.9 193.0,633.7 195.0,634.8 197.0,635.1 199.0,635.5 201.0,636.8 203.0,635.5 205.0,634.9 207.0,635.7 209.0,634.5 211.0,633.6 213.0,634.1 215.0,633.6 217.0,634.1 219.0,634.0 221.0,634.9 223.0,635.5 225.0,634.8 227.0,635.5 229.0,635.6 231.0,634.6 233.0,636.3 235.0,635.4 237.0,634.5 239.0,633.8 241.0,634.8 243.0,636.1 245.0,636.7 247.0,636.0 249.0,635.1 251.0,633.8 253.0,634.6 255.0,634.9 257.0,634.4 259.0,634.8 261.0,634.4 263.0,635.4 265.0,635.5 267.0,634.0 269.0,634.8 271.0,632.8 273.0,632.8 275.0,632.3 277.0,631.5 279.0,630.3 281.0,631.4 283.0,629.9 285.0,630.3 287.0,631.6 289.0,630.1 291.0,629.2 293.0,629.6 295.0,629.5 297.0,629.7 299.0,630.3 301.0,629.1 303.0,628.5 305.0,628.0 307.0,627.2 309.0,628.0 311.0,627.6 313.0,627.1 315.0,625.3 317.0,625.3 319.0,624.7 321.0,623.3 323.0,622.6 325.0,621.2 327.0,619.6 329.0,617.8 331.0,616.2 333.0,614.2 335.0,612.6 337.0,610.7 339.0,607.8 341.0,604.6 343.0,600.7 345.0,596.1 347.0,592.2 349.0,587.9 351.0,584.3 353.0,580.0 355.0,575.1 357.0,570.8 359.0,566.3 361.0,560.1 363.0,555.0 365.0,547.9 367.0,541.1 369.0,534.6 371.0,528.5 373.0,522.2 375.0,515.2 377.0,507.7 379.0,501.7 381.0,487.2 383.0,473.2 385.0,464.4 387.0,459.1 389.0,454.9 391.0,451.5 393.0,448.9 395.0,445.7 397.0,443.8 399.0,441.9 401.0,441.3 403.0,441.1 405.0,442.1 407.0,443.1 409.0,444.2 411.0,445.4 413.0,447.7 415.0,448.9 417.0,451.7 419.0,453.2 421.0,454.8 423.0,456.9 425.0,460.4 427.0,462.5 429.0,464.7 431.0,467.6 433.0,470.8 435.0,475.2 437.0,479.1 439.0,482.6 441.0,485.6 443.0,487.3 445.0,490.2 447.0,492.9 449.0,496.6 451.0,500.6 453.0,504.8 455.0,507.9 457.0,512.7 459.0,517.4 461.0,521.9 463.0,524.9 465.0,528.7 467.0,532.4 469.0,536.1 471.0,540.9 473.0,544.9 475.0,548.9 477.0,552.2 479.0,554.8 481.0,557.1 483.0,559.0 485.0,561.1 487.0,564.8 489.0,567.2 491.0,569.0 493.0,571.2 495.0,572.8 497.0,575.1 499.0,577.3 501.0,580.2 503.0,582.0 505.0,583.5 507.0,585.7 509.0,586.5 511.0,587.8 513.0,588.4 515.0,587.9 517.0,588.3 519.0,588.8 521.0,589.7 523.0,589.7 525.0,590.5 527.0,590.9 529.0,590.8 531.0,591.8 533.0,591.4 535.0,592.4 537.0,592.1 539.0,591.8 541.0,592.0 543.0,593.1 545.0,594.3 547.0,593.6 549.0,594.1 551.0,594.5 553.0,595.4 555.0,595.1 557.0,595.6 559.0,595.8 561.0,596.8 563.0,596.7 565.0,597.9 567.0,597.7 569.0,597.6 571.0,598.4 573.0,598.8 575.0,598.6 577.0,599.4 579.0,599.3 581.0,600.5 583.0,601.4 585.0,602.3 587.0,602.9 589.0,602.9 591.0,603.2 593.0,603.5 595.0,604.5 597.0,604.0 599.0,604.9 601.0,604.0 603.0,603.6 605.0,603.2 607.0,603.7 609.0,603.2 611.0,602.5 613.0,602.6 615.0,601.6 617.0,601.1 619.0,600.7 621.0,600.6 623.0,600.4 625.0,599.9 627.0,598.9 629.0,598.1 631.0,597.1 633.0,597.4 635.0,597.1 637.0,596.8 639.0,595.6 641.0,595.0 643.0,595.0 645.0,594.5 647.0,593.3 649.0,592.9 651.0,593.1 653.0,592.1 655.0,591.2 657.0,590.5 659.0,590.4 661.0,590.1 663.0,588.5 665.0,587.4 667.0,587.1 669.0,587.3 671.0,588.2 673.0,588.5 675.0,589.5 677.0,590.3 679.0,592.5 681.0,593.8 683.0,594.0 685.0,595.9 687.0,596.0 689.0,597.0 691.0,599.5 693.0,600.9 695.0,602.0 697.0,602.3 699.0,602.0 701.0,603.3 703.0,602.9 705.0,603.3 707.0,604.3 709.0,604.3 711.0,605.7 713.0,608.0 715.0,609.5 717.0,610.2 719.0,611.4 721.0,612.0 723.0,611.9 725.0,613.4 727.0,614.1 729.0,615.8 731.0,617.8 733.0,618.2 735.0,619.2 737.0,620.7 739.0,621.2 741.0,621.3 743.0,623.2 745.0,624.8 747.0,625.9 749.0,626.7 751.0,627.9 753.0,628.5 755.0,629.1 757.0,629.2 759.0,629.1 761.0,630.1 763.0,629.5 765.0,630.2 767.0,631.9 769.0,632.9 771.0,633.6 773.0,633.1 775.0,633.4 777.0,633.8 779.0,634.7 781.0,634.8 783.0,635.8 785.0,637.2 787.0,636.1 789.0,636.7 791.0,637.6 793.0,637.1 795.0,637.2 797.0,638.6 799.0,637.0 801.0,637.4 803.0,636.6 805.0,637.9 807.0,639.2 809.0,638.9"/>
<polyline fill="none" stroke="#3c472c" stroke-width="2.0" stroke-linejoin="round" points="105.0,634.5 107.0,635.1 109.0,635.3 111.0,635.9 113.0,635.8 115.0,636.0 117.0,636.6 119.0,636.3 121.0,635.8 123.0,636.8 125.0,635.7 127.0,636.1 129.0,635.6 131.0,636.3 133.0,635.1 135.0,636.4 137.0,635.8 139.0,634.7 141.0,634.5 143.0,634.6 145.0,633.8 147.0,634.3 149.0,634.6 151.0,635.4 153.0,635.2 155.0,634.8 157.0,634.5 159.0,635.5 161.0,636.6 163.0,636.4 165.0,635.5 167.0,636.3 169.0,635.9 171.0,635.2 173.0,634.5 175.0,635.6 177.0,636.4 179.0,636.5 181.0,636.2 183.0,636.2 185.0,635.4 187.0,636.7 189.0,636.1 191.0,636.3 193.0,636.9 195.0,637.3 197.0,636.7 199.0,635.9 201.0,636.0 203.0,635.1 205.0,636.2 207.0,635.7 209.0,636.6 211.0,635.8 213.0,635.5 215.0,635.0 217.0,635.1 219.0,634.6 221.0,633.8 223.0,635.1 225.0,634.8 227.0,634.5 229.0,634.5 231.0,634.9 233.0,635.0 235.0,635.5 237.0,636.0 239.0,635.5 241.0,636.6 243.0,637.1 245.0,635.5 247.0,636.3 249.0,637.0 251.0,637.1 253.0,635.5 255.0,636.1 257.0,636.0 259.0,634.3 261.0,633.2 263.0,634.6 265.0,634.8 267.0,633.9 269.0,632.8 271.0,632.1 273.0,631.9 275.0,632.9 277.0,632.4 279.0,631.6 281.0,632.8 283.0,633.2 285.0,631.9 287.0,632.7 289.0,632.4 291.0,632.6 293.0,632.4 295.0,632.7 297.0,632.5 299.0,632.5 301.0,630.3 303.0,629.2 305.0,627.7 307.0,626.3 309.0,624.3 311.0,623.0 313.0,621.0 315.0,618.4 317.0,615.8 319.0,613.0 321.0,610.7 323.0,607.6 325.0,605.0 327.0,601.7 329.0,598.8 331.0,595.6 333.0,592.3 335.0,589.2 337.0,584.6 339.0,581.2 341.0,576.8 343.0,572.2 345.0,566.8 347.0,561.1 349.0,554.3 351.0,547.5 353.0,541.4 355.0,530.8 357.0,520.6 359.0,510.2 361.0,498.8 363.0,487.9 365.0,477.0 367.0,468.0 369.0,456.6 371.0,447.6 373.0,435.3 375.0,427.0 377.0,420.1 379.0,411.1 381.0,402.4 383.0,394.6 385.0,388.7 387.0,384.1 389.0,379.2 391.0,375.4 393.0,372.9 395.0,371.4 397.0,369.5 399.0,368.6 401.0,368.0 403.0,367.9 405.0,368.5 407.0,368.6 409.0,370.1 411.0,371.4 413.0,373.3 415.0,375.5 417.0,378.4 419.0,382.2 421.0,385.5 423.0,389.2 425.0,392.5 427.0,396.2 429.0,400.2 431.0,404.5 433.0,408.6 435.0,413.9 437.0,417.7 439.0,422.8 441.0,428.1 443.0,434.2 445.0,440.1 447.0,446.5 449.0,451.2 451.0,454.8 453.0,459.3 455.0,464.0 457.0,470.1 459.0,476.8 461.0,484.4 463.0,492.0 465.0,499.6 467.0,506.5 469.0,512.4 471.0,517.4 473.0,522.1 475.0,525.8 477.0,530.1 479.0,534.0 481.0,537.7 483.0,540.1 485.0,542.7 487.0,545.1 489.0,548.6 491.0,551.9 493.0,554.5 495.0,556.6 497.0,559.3 499.0,561.8 501.0,563.8 503.0,565.4 505.0,566.9 507.0,568.6 509.0,569.8 511.0,570.8 513.0,571.9 515.0,573.1 517.0,572.7 519.0,573.2 521.0,572.9 523.0,572.9 525.0,574.1 527.0,574.7 529.0,575.7 531.0,575.9 533.0,575.5 535.0,575.9 537.0,576.6 539.0,577.7 541.0,578.6 543.0,578.7 545.0,578.8 547.0,578.7 549.0,579.5 551.0,579.7 553.0,580.0 555.0,580.2 557.0,580.5 559.0,581.9 561.0,582.2 563.0,583.7 565.0,583.7 567.0,584.9 569.0,584.6 571.0,584.4 573.0,585.4 575.0,585.5 577.0,586.3 579.0,586.2 581.0,586.1 583.0,587.1 585.0,587.7 587.0,588.4 589.0,588.7 591.0,588.0 593.0,588.3 595.0,588.6 597.0,588.3 599.0,588.7 601.0,587.4 603.0,586.9 605.0,585.5 607.0,583.0 609.0,580.7 611.0,579.6 613.0,578.8 615.0,576.7 617.0,575.2 619.0,574.3 621.0,572.5 623.0,571.9 625.0,570.6 627.0,568.4 629.0,566.9 631.0,565.7 633.0,564.3 635.0,563.3 637.0,561.5 639.0,560.9 641.0,559.4 643.0,558.5 645.0,557.5 647.0,556.3 649.0,555.3 651.0,554.9 653.0,554.5 655.0,553.8 657.0,552.9 659.0,551.8 661.0,550.7 663.0,551.1 665.0,551.4 667.0,552.5 669.0,553.1 671.0,554.5 673.0,556.6 675.0,558.5 677.0,560.2 679.0,561.5 681.0,563.1 683.0,565.6 685.0,567.3 687.0,569.5 689.0,571.6 691.0,574.4 693.0,576.7 695.0,577.6 697.0,578.2 699.0,579.9 701.0,582.2 703.0,584.7 705.0,587.6 707.0,590.4 709.0,591.0 711.0,593.9 713.0,596.4 715.0,598.7 717.0,599.7 719.0,600.1 721.0,602.2 723.0,603.8 725.0,605.0 727.0,606.8 729.0,607.1 731.0,607.3 733.0,609.3 735.0,611.9 737.0,612.8 739.0,615.3 741.0,617.7 743.0,617.9 745.0,618.8 747.0,619.8 749.0,620.0 751.0,619.7 753.0,619.8 755.0,621.1 757.0,622.2 759.0,622.3 761.0,621.6 763.0,622.9 765.0,623.8 767.0,623.1 769.0,623.5 771.0,624.6 773.0,625.3 775.0,624.9 777.0,624.6 779.0,624.9 781.0,624.3 783.0,624.2 785.0,624.3 787.0,626.0 789.0,626.6 791.0,627.8 793.0,628.6 795.0,629.7 797.0,629.9 799.0,630.2 801.0,632.9 803.0,633.4 805.0,633.3 807.0,634.6 809.0,635.9"/>
<polyline fill="none" stroke="#6c2828" stroke-width="2.2" stroke-linejoin="round" points="105.0,634.7 107.0,635.2 109.0,635.0 111.0,635.3 113.0,634.3 115.0,633.7 117.0,635.6 119.0,636.6 121.0,636.3 123.0,636.4 125.0,635.7 127.0,636.5 129.0,636.3 131.0,637.3 133.0,637.6 135.0,638.0 137.0,638.5 139.0,637.2 141.0,635.8 143.0,635.4 145.0,635.0 147.0,634.5 149.0,634.2 151.0,635.1 153.0,636.5 155.0,636.4 157.0,637.5 159.0,638.1 161.0,636.4 163.0,636.6 165.0,636.2 167.0,635.3 169.0,636.7 171.0,635.9 173.0,636.1 175.0,636.4 177.0,637.3 179.0,637.2 181.0,636.5 183.0,636.1 185.0,635.1 187.0,636.4 189.0,637.3 191.0,636.0 193.0,634.8 195.0,634.4 197.0,634.4 199.0,635.8 201.0,636.6 203.0,637.0 205.0,635.4 207.0,636.1 209.0,636.4 211.0,636.4 213.0,637.3 215.0,635.6 217.0,634.8 219.0,635.7 221.0,636.7 223.0,636.8 225.0,635.9 227.0,636.1 229.0,636.6 231.0,635.3 233.0,635.1 235.0,634.7 237.0,634.2 239.0,634.7 241.0,634.2 243.0,634.1 245.0,633.7 247.0,634.8 249.0,633.8 251.0,634.9 253.0,634.2 255.0,633.4 257.0,634.9 259.0,634.1 261.0,635.3 263.0,635.8 265.0,636.1 267.0,634.4 269.0,634.0 271.0,632.8 273.0,633.9 275.0,634.3 277.0,634.0 279.0,633.3 281.0,632.5 283.0,633.0 285.0,632.3 287.0,631.6 289.0,629.5 291.0,628.0 293.0,626.2 295.0,626.2 297.0,625.4 299.0,623.3 301.0,622.9 303.0,621.2 305.0,619.6 307.0,617.6 309.0,615.8 311.0,614.8 313.0,612.6 315.0,610.0 317.0,607.7 319.0,604.5 321.0,601.8 323.0,597.5 325.0,594.1 327.0,588.7 329.0,584.3 331.0,579.0 333.0,572.7 335.0,566.2 337.0,558.5 339.0,550.4 341.0,541.5 343.0,531.5 345.0,520.9 347.0,509.7 349.0,498.6 351.0,485.6 353.0,473.6 355.0,461.3 357.0,443.6 359.0,428.3 361.0,413.8 363.0,400.0 365.0,384.4 367.0,370.7 369.0,359.5 371.0,350.7 373.0,341.2 375.0,332.5 377.0,322.3 379.0,312.1 381.0,301.7 383.0,292.5 385.0,286.2 387.0,283.0 389.0,279.6 391.0,276.8 393.0,274.8 395.0,272.1 397.0,269.8 399.0,269.5 401.0,270.4 403.0,272.7 405.0,275.0 407.0,277.1 409.0,279.5 411.0,282.8 413.0,286.6 415.0,291.3 417.0,297.1 419.0,303.1 421.0,309.3 423.0,317.5 425.0,325.4 427.0,334.0 429.0,342.4 431.0,352.8 433.0,361.8 435.0,371.6 437.0,382.0 439.0,392.4 441.0,404.4 443.0,418.2 445.0,429.2 447.0,438.2 449.0,444.0 451.0,449.6 453.0,458.9 455.0,468.5 457.0,473.6 459.0,480.1 461.0,487.2 463.0,493.2 465.0,499.5 467.0,504.2 469.0,508.8 471.0,512.5 473.0,517.0 475.0,521.1 477.0,524.7 479.0,527.1 481.0,530.0 483.0,532.0 485.0,534.3 487.0,535.2 489.0,537.3 491.0,538.9 493.0,539.3 495.0,539.5 497.0,539.6 499.0,539.7 501.0,539.0 503.0,539.6 505.0,538.7 507.0,537.9 509.0,537.1 511.0,536.7 513.0,537.3 515.0,536.8 517.0,536.9 519.0,538.1 521.0,538.7 523.0,539.2 525.0,540.9 527.0,542.4 529.0,543.7 531.0,545.4 533.0,546.2 535.0,548.3 537.0,550.1 539.0,550.8 541.0,552.0 543.0,553.8 545.0,555.6 547.0,557.0 549.0,558.4 551.0,560.2 553.0,561.5 555.0,563.5 557.0,565.5 559.0,566.3 561.0,567.8 563.0,569.5 565.0,570.1 567.0,571.7 569.0,573.2 571.0,573.7 573.0,574.4 575.0,575.7 577.0,576.3 579.0,576.7 581.0,577.8 583.0,578.3 585.0,577.8 587.0,577.1 589.0,576.3 591.0,575.5 593.0,575.1 595.0,574.0 597.0,572.7 599.0,571.3 601.0,569.7 603.0,566.7 605.0,564.7 607.0,563.2 609.0,561.4 611.0,558.5 613.0,556.0 615.0,553.6 617.0,550.6 619.0,547.9 621.0,544.5 623.0,541.9 625.0,539.5 627.0,536.4 629.0,533.6 631.0,532.0 633.0,529.9 635.0,528.1 637.0,525.9 639.0,524.3 641.0,522.4 643.0,521.1 645.0,519.0 647.0,518.3 649.0,517.1 651.0,516.9 653.0,516.3 655.0,516.4 657.0,517.5 659.0,518.1 661.0,518.5 663.0,519.2 665.0,519.8 667.0,521.9 669.0,523.3 671.0,524.7 673.0,526.8 675.0,528.4 677.0,530.9 679.0,534.0 681.0,536.3 683.0,538.3 685.0,541.6 687.0,545.6 689.0,549.1 691.0,552.6 693.0,556.3 695.0,560.4 697.0,564.8 699.0,568.9 701.0,572.9 703.0,576.4 705.0,581.0 707.0,585.6 709.0,589.0 711.0,592.0 713.0,595.0 715.0,596.6 717.0,599.5 719.0,601.0 721.0,602.5 723.0,604.0 725.0,605.0 727.0,605.7 729.0,606.5 731.0,608.0 733.0,611.1 735.0,613.7 737.0,616.6 739.0,617.0 741.0,618.2 743.0,620.6 745.0,620.9 747.0,622.3 749.0,623.3 751.0,623.8 753.0,626.1 755.0,626.0 757.0,627.3 759.0,627.0 761.0,626.7 763.0,628.7 765.0,629.2 767.0,628.8 769.0,629.5 771.0,630.2 773.0,631.6 775.0,631.1 777.0,631.2 779.0,633.2 781.0,634.1 783.0,633.4 785.0,633.5 787.0,633.8 789.0,634.8 791.0,635.4 793.0,636.4 795.0,637.1 797.0,636.9 799.0,637.4 801.0,637.7 803.0,638.0 805.0,637.5 807.0,637.9 809.0,638.0"/>
<!-- legend -->
<g stroke-width="2.6">
<line x1="485.5" y1="298.7" x2="514" y2="298.7" stroke="#582626"/>
<line x1="485.5" y1="334.4" x2="514" y2="334.4" stroke="#3a4230"/>
<line x1="485.5" y1="369.9" x2="514" y2="369.9" stroke="#3a3262"/>
<line x1="485.5" y1="404" x2="514" y2="404" stroke="#6686c0"/>
<line x1="487.5" y1="447.5" x2="522.5" y2="447.5" stroke="#a85450"/>
<line x1="495" y1="483.1" x2="526.5" y2="483.1" stroke="#1a1a1a" stroke-width="2.6"/>
</g>
<g class="t" font-size="15" font-style="italic" font-weight="bold" fill="#1e1e1e" stroke="#1e1e1e" stroke-width="0.1">
<text x="517" y="302.2" textLength="187" lengthAdjust="spacingAndGlyphs">PRT 1.2m BestData 2.68dB</text>
<text x="517" y="338.4" textLength="252" lengthAdjust="spacingAndGlyphs">1.5m Cir_Patch_25Disk_Yagi_Ver02</text>
<text x="517" y="373.8" textLength="205" lengthAdjust="spacingAndGlyphs">0.75m miniCPY_Rev02_21Jan</text>
<text x="516" y="409.2" textLength="170" lengthAdjust="spacingAndGlyphs">1.0m Umbrella Antenna</text>
<text x="528.4" y="451.2" font-style="normal" font-weight="bold" textLength="174" lengthAdjust="spacingAndGlyphs">1m WiFi Scope in a Box</text>
<text x="536" y="488" textLength="146" lengthAdjust="spacingAndGlyphs">Cantenna w/o Dish</text>
</g>
<!-- axis titles -->
<text class="t" x="393" y="696.6" font-size="14" font-weight="bold" fill="#222" stroke="#222" stroke-width="0.45" textLength="110" lengthAdjust="spacingAndGlyphs">Frequency MHz</text>
<g class="t" font-size="15.5" font-weight="bold" fill="#222" stroke="#222" stroke-width="0.45"><text transform="translate(63 599.3) rotate(-90)" x="0" y="0" textLength="73.0" lengthAdjust="spacingAndGlyphs">Amplitude</text><text transform="translate(63 524.0) rotate(-90)" x="0" y="0" textLength="19.5" lengthAdjust="spacingAndGlyphs">dB</text><text transform="translate(63 498.9) rotate(-90)" x="0" y="0" textLength="53.6" lengthAdjust="spacingAndGlyphs">relative</text><text transform="translate(63 441.0) rotate(-90)" x="0" y="0" textLength="15.6" lengthAdjust="spacingAndGlyphs">to</text><text transform="translate(63 418.6) rotate(-90)" x="0" y="0" textLength="28.3" lengthAdjust="spacingAndGlyphs">10K</text><text transform="translate(63 388.8) rotate(-90)" x="0" y="0" textLength="29.7" lengthAdjust="spacingAndGlyphs">Cold</text><text transform="translate(63 357.6) rotate(-90)" x="0" y="0" textLength="25.8" lengthAdjust="spacingAndGlyphs">Sky</text></g>
<!-- squiggles -->
<path d="M352.0 48.8 L353.5 49.8 L355.0 48.6 L356.5 49.8 L358.0 48.6 L359.5 49.8 L361.0 48.6 L362.5 49.8 L364.0 48.6 L365.5 49.8 L367.0 48.6 L368.5 49.8 L370.0 48.6 L371.5 49.8 L373.0 48.6 L374.5 49.8 L376.0 48.6 L377.5 49.8 L379.0 48.6 L380.5 49.8 L382.0 48.6 L383.5 49.8 L385.0 48.6 L386.5 49.8 L388.0 48.6 L389.5 49.8 L391.0 48.6 L392.5 49.8 L394.0 48.6 L395.5 49.8 L397.0 48.6" fill="none" stroke="#d04040" stroke-width="0.8" stroke-opacity="0.8"/>
<path d="M385.0 180.3 L386.5 181.3 L388.0 180.1 L389.5 181.3 L391.0 180.1 L392.5 181.3 L394.0 180.1 L395.5 181.3 L397.0 180.1 L398.5 181.3 L400.0 180.1 L401.5 181.3 L403.0 180.1 L404.5 181.3 L406.0 180.1 L407.5 181.3 L409.0 180.1 L410.5 181.3 L412.0 180.1 L413.5 181.3 L415.0 180.1 L416.5 181.3 L418.0 180.1 L419.5 181.3 L421.0 180.1" fill="none" stroke="#d04040" stroke-width="0.8" stroke-opacity="0.8"/>
<path d="M556.0 455.5 L557.5 456.5 L559.0 455.3 L560.5 456.5 L562.0 455.3 L563.5 456.5 L565.0 455.3 L566.5 456.5 L568.0 455.3 L569.5 456.5 L571.0 455.3 L572.5 456.5 L574.0 455.3 L575.5 456.5 L577.0 455.3 L578.5 456.5 L580.0 455.3 L581.5 456.5 L583.0 455.3 L584.5 456.5 L586.0 455.3 L587.5 456.5" fill="none" stroke="#d04040" stroke-width="0.8" stroke-opacity="0.8"/>
</svg>
<div style="position:absolute;left:822px;top:0;width:1px;height:719px;background:#777"></div>
<div style="position:absolute;left:0;top:718px;width:823px;height:1px;background:#777"></div>
</body></html>
